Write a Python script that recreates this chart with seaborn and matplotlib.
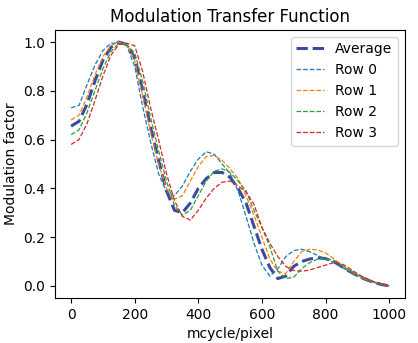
import numpy as np
import pandas as pd
import matplotlib
matplotlib.use("Agg")
import matplotlib.pyplot as plt
import seaborn as sns

freq = list(range(0, 1001, 25))

average = [0.655, 0.675, 0.745, 0.84, 0.925, 0.978, 1.0, 0.99, 0.935, 0.80,
           0.65, 0.515, 0.39, 0.31, 0.30, 0.34, 0.40, 0.44, 0.465, 0.465,
           0.445, 0.40, 0.34, 0.245, 0.15, 0.075, 0.03, 0.04, 0.08, 0.10,
           0.11, 0.115, 0.112, 0.10, 0.08, 0.06, 0.042, 0.027, 0.015, 0.006, 0.0]
row0 = [0.73, 0.74, 0.825, 0.905, 0.965, 0.995, 0.995, 0.985, 0.90, 0.735,
        0.59, 0.46, 0.385, 0.37, 0.41, 0.47, 0.52, 0.55, 0.54, 0.50,
        0.46, 0.39, 0.285, 0.175, 0.085, 0.04, 0.07, 0.12, 0.145, 0.15,
        0.14, 0.125, 0.11, 0.097, 0.078, 0.058, 0.04, 0.026, 0.015, 0.006, 0.0]
row1 = [0.68, 0.70, 0.775, 0.865, 0.94, 0.985, 1.0, 0.99, 0.925, 0.78,
        0.63, 0.50, 0.40, 0.355, 0.37, 0.43, 0.49, 0.53, 0.535, 0.515,
        0.48, 0.44, 0.37, 0.29, 0.20, 0.11, 0.06, 0.05, 0.10, 0.14,
        0.15, 0.148, 0.135, 0.112, 0.087, 0.064, 0.044, 0.028, 0.016, 0.007, 0.0]
row2 = [0.62, 0.64, 0.71, 0.80, 0.89, 0.96, 0.995, 0.99, 0.955, 0.84,
        0.69, 0.555, 0.43, 0.33, 0.29, 0.31, 0.37, 0.43, 0.47, 0.48,
        0.465, 0.43, 0.39, 0.31, 0.24, 0.16, 0.06, 0.03, 0.035, 0.07,
        0.095, 0.11, 0.112, 0.105, 0.085, 0.064, 0.045, 0.029, 0.016, 0.007, 0.0]
row3 = [0.58, 0.60, 0.665, 0.76, 0.86, 0.945, 0.99, 0.995, 0.985, 0.88,
        0.73, 0.60, 0.46, 0.35, 0.285, 0.27, 0.31, 0.36, 0.40, 0.425,
        0.43, 0.41, 0.385, 0.335, 0.24, 0.175, 0.12, 0.08, 0.063, 0.06,
        0.065, 0.075, 0.085, 0.095, 0.092, 0.072, 0.05, 0.032, 0.018, 0.008, 0.0]

rows = [row0, row1, row2, row3]
row_labels = ["Row 0", "Row 1", "Row 2", "Row 3"]
row_colors = ["#1f77b4", "#ff7f0e", "#2ca02c", "#d62728"]

fig = plt.figure(figsize=(4.18, 3.43), dpi=100)
ax = fig.add_axes([0.132, 0.131, 0.837, 0.782])

sns.lineplot(x=freq, y=average, ax=ax, color="#3b4ba0", linewidth=2.2,
             linestyle="--", label="Average")
for vals, lab, col in zip(rows, row_labels, row_colors):
    sns.lineplot(x=freq, y=vals, ax=ax, color=col, linewidth=0.9,
                 linestyle="--", label=lab)

ax.set_title("Modulation Transfer Function", fontsize=12)
ax.set_xlabel("mcycle/pixel", fontsize=10)
ax.set_ylabel("Modulation factor", fontsize=10)
ax.set_xticks([0, 200, 400, 600, 800, 1000])
ax.set_yticks([0.0, 0.2, 0.4, 0.6, 0.8, 1.0])
ax.set_xlim(-50, 1050)
ax.set_ylim(-0.05, 1.05)
ax.tick_params(labelsize=10)
ax.legend(loc="upper right", fontsize=10)

fig.savefig("out.png", dpi=100)
